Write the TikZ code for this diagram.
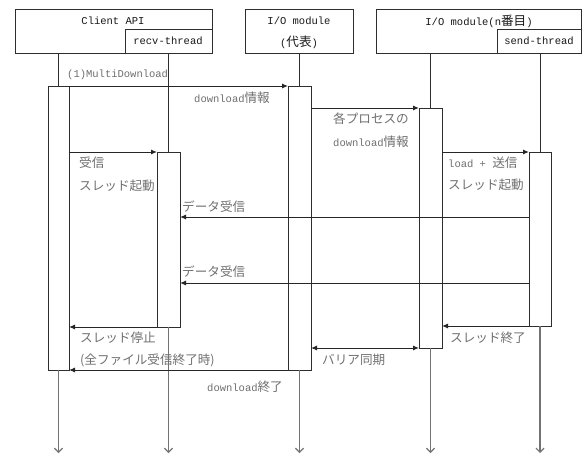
\documentclass[tikz,border=0pt]{standalone}
\usepackage{fontspec}
\setmainfont{Liberation Mono}
\newfontfamily\jp{Noto Sans CJK JP}
\usetikzlibrary{arrows.meta}
\definecolor{linec}{HTML}{2E2E2E}
\definecolor{labc}{HTML}{707070}
\newcommand\J[1]{{\jp\fontsize{12.6}{14}\selectfont #1}}
\begin{document}
\begin{tikzpicture}[x=1pt,y=-1pt]
\tikzset{
 box/.style={draw=linec, line width=1pt, fill=white, inner sep=0pt, outer sep=0pt, anchor=north west},
 hdr/.style={text=black!90, font=\fontsize{10.5}{12}\selectfont, inner sep=0pt},
 lbl/.style={text=labc, font=\fontsize{10.5}{12}\selectfont, inner sep=0pt, anchor=west},
 msg/.style={draw=black!85, line width=1pt, -{Latex[length=6pt,width=5pt]}},
 life/.style={draw=linec, line width=1pt},
 lifeend/.style={draw=black!55, line width=1.2pt, -{Straight Barb[length=4pt,width=8pt]}},
}
\useasboundingbox[fill=white] (0,0) rectangle (583,455);
% headers
\node[box, minimum width=197pt, minimum height=44pt] (hdrA) at (15,9) {};
\node[box, minimum width=87pt, minimum height=24pt] (subA) at (125,29) {};
\node[box, minimum width=108pt, minimum height=44pt] (hdrB) at (245,9) {};
\node[box, minimum width=205pt, minimum height=44pt] (hdrC) at (376,9) {};
\node[box, minimum width=84pt, minimum height=24pt] (subC) at (497,29) {};
\node[hdr] (tA) at (113,21) {Client API};
\node[hdr] (tR) at (168,41) {recv-thread};
\node[hdr] (tB) at (299,21) {I/O module};
\node[hdr] (tB2) at (299,42) {(\J{代表})};
\node[hdr] (tC) at (479,21) {I/O module(n\J{番目})};
\node[hdr] (tS) at (539,41) {send-thread};
% activations
\node[box, minimum width=21pt, minimum height=284pt] (actA) at (48,86) {};
\node[box, minimum width=23pt, minimum height=175pt] (actR) at (157,152) {};
\node[box, minimum width=23pt, minimum height=284pt] (actB) at (288,86) {};
\node[box, minimum width=23pt, minimum height=240pt] (actC) at (419,108) {};
\node[box, minimum width=22pt, minimum height=174pt] (actS) at (529,152) {};
% lifelines
\coordinate (bot) at (0,453);
\draw[life] (actA.north |- hdrA.south) -- (actA.north);
\draw[life] (actR.north |- subA.south) -- (actR.north);
\draw[life] (actB.north |- hdrB.south) -- (actB.north);
\draw[life] (actC.north |- hdrC.south) -- (actC.north);
\draw[life] (actS.north |- subC.south) -- (actS.north);
\draw[lifeend] (actA.south) -- (actA.south |- bot);
\draw[lifeend] (actR.south) -- (actR.south |- bot);
\draw[lifeend] (actB.south) -- (actB.south |- bot);
\draw[lifeend] (actC.south) -- (actC.south |- bot);
\draw[lifeend] (actS.south) -- (actS.south |- bot);
% messages
\coordinate (d1) at (0,217);
\coordinate (d2) at (0,283);
\draw[msg] (actA.north east) -- (actB.north west);
\draw[msg] (actC.north west -| actB.east) -- (actC.north west);
\draw[msg] (actS.north west -| actC.east) -- (actS.north west);
\draw[msg] (actR.north west -| actA.east) -- (actR.north west);
\draw[msg] (d1 -| actS.west) -- (d1 -| actR.east);
\draw[msg] (d2 -| actS.west) -- (d2 -| actR.east);
\draw[msg] (actR.south west) -- (actR.south west -| actA.east);
\draw[msg] (actS.south west) -- (actS.south west -| actC.east);
\draw[msg, {Latex[length=6pt,width=5pt]}-{Latex[length=6pt,width=5pt]}] (actC.south west) -- (actC.south west -| actB.east);
\draw[msg] (actB.south west) -- (actB.south west -| actA.east);
% labels
\node[lbl] (l1) at (67,75) {(1)MultiDownload};
\node[lbl] (l2) at (194,98) {download\J{情報}};
\node[lbl] (l3) at (333,119) {\J{各プロセスの}};
\node[lbl] (l4) at (333,142) {download\J{情報}};
\node[lbl] (l5) at (448,163) {load + \J{送信}};
\node[lbl] (l6) at (448,185) {\J{スレッド起動}};
\node[lbl] (l7) at (79,163) {\J{受信}};
\node[lbl] (l8) at (79,186) {\J{スレッド起動}};
\node[lbl] (l9) at (182,207) {\J{データ受信}};
\node[lbl] (l10) at (182,272) {\J{データ受信}};
\node[lbl] (l11) at (80,338) {\J{スレッド停止}};
\node[lbl] (l12) at (80,360) {\J{(全ファイル受信終了時)}};
\node[lbl] (l13) at (450,338) {\J{スレッド終了}};
\node[lbl] (l14) at (322,360) {\J{バリア同期}};
\node[lbl] (l15) at (207,387) {download\J{終了}};
\end{tikzpicture}
\end{document}
